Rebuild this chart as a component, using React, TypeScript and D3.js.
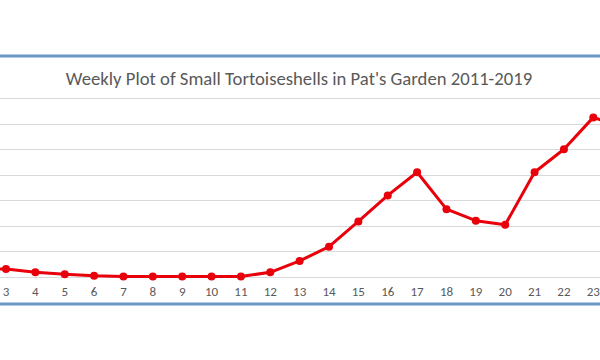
import React from "react";
import * as d3 from "d3";

const weeks = [2, 3, 4, 5, 6, 7, 8, 9, 10, 11, 12, 13, 14, 15, 16, 17, 18, 19, 20, 21, 22, 23, 24];
const counts = [0.31, 0.29, 0.165, 0.086, 0.03, 0, 0, 0, 0, 0, 0.165, 0.61, 1.17, 2.16, 3.18, 4.09, 2.64, 2.19, 2.03, 4.09, 4.99, 6.24, 5.85];
const gridValues = [0, 1, 2, 3, 4, 5, 6, 7];
const title = "Weekly Plot of Small Tortoiseshells in Pat's Garden 2011-2019";

export default function App() {
  const W = 600, H = 360;
  const x = d3.scaleLinear().domain([3, 23]).range([6, 593.3]);
  const y = d3.scaleLinear().domain([0, 7]).range([276.5, 98]);
  const line = d3.line<number>().x((_, i) => x(weeks[i])).y((d) => y(d));
  const font = "Carlito, Calibri, 'Open Sans', sans-serif";
  return (
    <svg width={W} height={H} style={{ position: "absolute", left: 0, top: 0, background: "#fff" }}>
      <rect width={W} height={H} fill="#fff" />
      <line x1={0} x2={W} y1={56} y2={56} stroke="#6b96c6" strokeWidth={3} />
      <line x1={0} x2={W} y1={304} y2={304} stroke="#6b96c6" strokeWidth={3} />
      {gridValues.map((g) => (
        <line key={g} x1={0} x2={W} y1={Math.round(y(g)) + 0.5} y2={Math.round(y(g)) + 0.5} stroke="#d9d9d9" strokeWidth={1} />
      ))}
      <text x={299} y={85} textAnchor="middle" fontFamily={font} fontSize={18.7} fill="#595959">
        {title}
      </text>
      {weeks.filter((w) => x(w) > -10 && x(w) < W + 10).map((w) => (
        <text key={w} x={x(w)} y={296} textAnchor="middle" fontFamily={font} fontSize={13} fill="#595959">
          {w}
        </text>
      ))}
      <path d={line(counts) || ""} fill="none" stroke="#e8000b" strokeWidth={3} strokeLinejoin="round" />
      {counts.map((c, i) => (
        <circle key={i} cx={x(weeks[i])} cy={y(c)} r={4} fill="#e8000b" />
      ))}
    </svg>
  );
}
